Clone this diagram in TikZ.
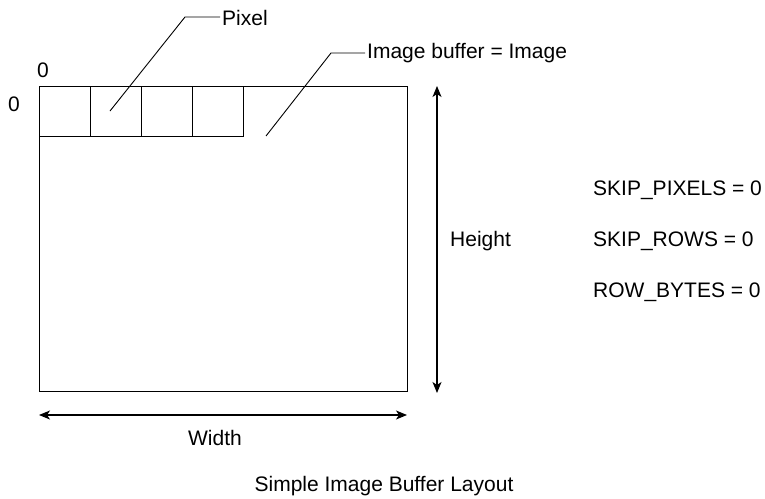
\documentclass[tikz,border=0pt]{standalone}
\usepackage{fontspec}
\setmainfont{Liberation Sans}
\usetikzlibrary{arrows.meta}
\begin{document}
\begin{tikzpicture}[x=1pt,y=-1pt,
  lbl/.style={font=\fontsize{21}{25}\selectfont, inner sep=2pt},
  cell/.style={draw, line width=1.2pt, minimum width=51pt, minimum height=50pt, inner sep=0pt, anchor=north west},
  frame/.style={draw, line width=1pt},
  leader/.style={draw, line width=0.9pt},
  dim/.style={draw, line width=1.3pt, {Stealth[length=11pt,width=9pt,inset=3pt]}-{Stealth[length=11pt,width=9pt,inset=3pt]}}]
\useasboundingbox (0,0) rectangle (765,498);

% image buffer outline
\node[frame, minimum width=368pt, minimum height=305pt, inner sep=0pt, anchor=north west] (buffer) at (39,86) {};

% first row of pixels
\node[cell] (c1) at (39,86) {};
\node[cell] (c2) at (90,86) {};
\node[cell] (c3) at (141,86) {};
\node[cell] (c4) at (192,86) {};

% origin labels
\node[lbl] (zx) at (43,70) {0};
\node[lbl] (zy) at (14,104) {0};

% callouts
\node[lbl, anchor=west] (pix) at (220,18) {Pixel};
\node[lbl, anchor=west] (img) at (365,53) {Image buffer = Image};
\coordinate (pixpt) at (110,111);
\coordinate (imgpt) at (266,136);
\draw[leader] (pixpt) -- (185,17) -- (pix.west |- 0,17);
\draw[leader] (imgpt) -- (331,53) -- (img.west);

% dimensions
\coordinate (htop) at (437,86);
\coordinate (hbot) at (437,393);
\draw[dim] (htop) -- (hbot);
\node[lbl, anchor=west] (height) at (448,241) {Height};
\coordinate (wl) at (39,415);
\coordinate (wr) at (407,415);
\draw[dim] (wl) -- (wr);
\node[lbl] (width) at (215,438) {Width};

% pixel store parameters
\node[lbl, anchor=west] (sp) at (591,190) {SKIP\_PIXELS = 0};
\node[lbl, anchor=west] (sr) at (591,241) {SKIP\_ROWS = 0};
\node[lbl, anchor=west] (rb) at (591,292) {ROW\_BYTES = 0};

% caption
\node[lbl] (cap) at (384,486) {Simple Image Buffer Layout};
\end{tikzpicture}
\end{document}
